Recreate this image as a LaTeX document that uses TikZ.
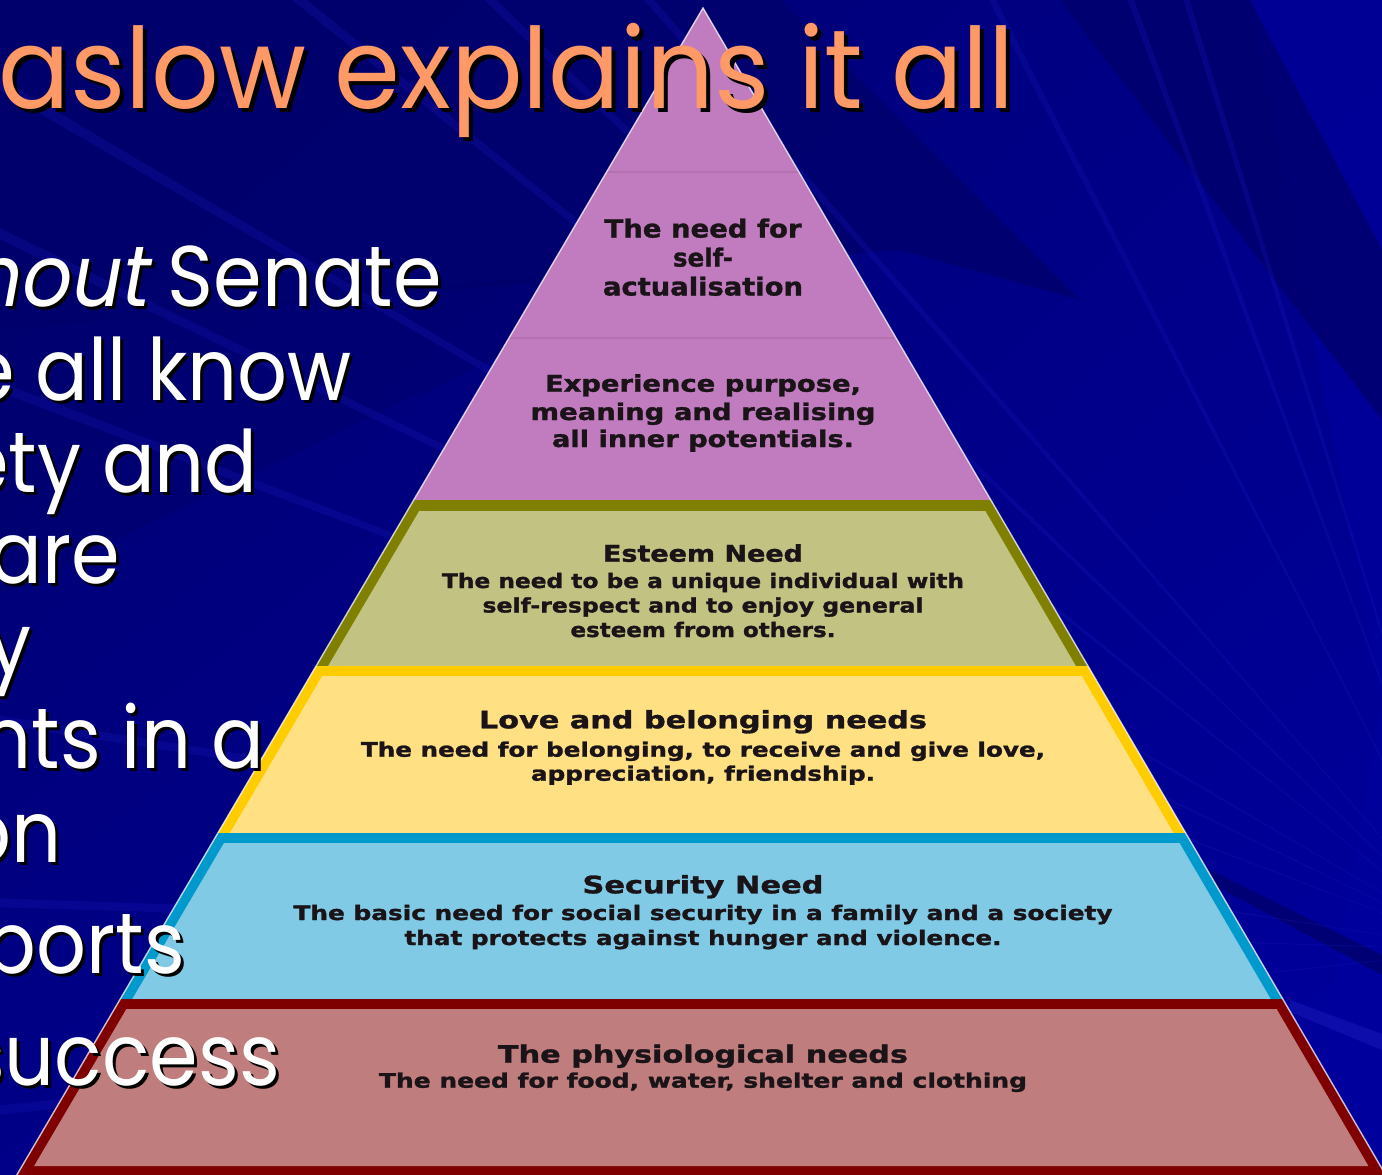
\documentclass[tikz,border=0pt]{standalone}
\usepackage{fontspec}
\usepackage{graphicx}
\usetikzlibrary{shadings}
\newfontfamily\handfont{Poppins}
\newfontfamily\handslant{Poppins}[FakeSlant=0.2]
\newfontfamily\labelfont{DejaVu Sans}[BoldFeatures={FakeBold=1.3}]

\definecolor{navybase}{HTML}{000088}
\definecolor{navydark}{HTML}{00006C}
\definecolor{navybright}{HTML}{00009E}
\definecolor{navystreak}{HTML}{1818B8}
\definecolor{titleorange}{HTML}{FF9966}
\definecolor{labelink}{HTML}{1A1418}
\definecolor{topfill}{HTML}{C07CBE}
\definecolor{topline}{HTML}{AE6CAC}
\definecolor{esteemedge}{HTML}{7F7F00}
\definecolor{esteemfill}{HTML}{C2C283}
\definecolor{loveedge}{HTML}{FFCC00}
\definecolor{lovefill}{HTML}{FFE082}
\definecolor{safeedge}{HTML}{0099CC}
\definecolor{safefill}{HTML}{80CAE6}
\definecolor{bodyedge}{HTML}{7F0000}
\definecolor{bodyfill}{HTML}{C07D7D}

\newdimen\measw
\newdimen\measv
\newcommand\fitto[2]{\resizebox{#1pt}{\height}{#2}}
\newcommand\bodytxt[1]{\handfont\fontsize{86}{86}\selectfont\scalebox{\bodysx}[1]{#1}}
\newcommand\mytitle{\handfont\fontsize{112}{112}\selectfont\scalebox{\titlesx}[1]{aslow explains it all}}

% horizontal scale of the hand-lettered text, set from the width of one word
\AtBeginDocument{%
  \setbox0=\hbox{\handfont\fontsize{86}{86}\selectfont Senate}\global\measw=\wd0
  \setbox0=\hbox{\handfont\fontsize{112}{112}\selectfont explains}\global\measv=\wd0
  \pgfmathsetmacro\bodysx{274/\the\measw}%
  \pgfmathsetmacro\titlesx{435/\the\measv}%
  \xdef\bodysx{\bodysx}\xdef\titlesx{\titlesx}}

\begin{document}
\begin{tikzpicture}[x=1pt,y=-1pt,
  sidetext/.style={anchor=base east,inner sep=0pt},
  plabel/.style={anchor=base,inner sep=0pt,text=labelink,font=\labelfont\bfseries},
  beam/.style={fill=navystreak,opacity=0.28},
  shadowband/.style={fill=navydark,opacity=0.8}]
\useasboundingbox (0,0) rectangle (1382,1175);
\clip (0,0) rectangle (1382,1175);

% ---------- background: deep blue, darker to the upper left ----------
\shade[upper left=navydark,upper right=navybase,lower left=navybase,lower right=navybright]
  (0,0) rectangle (1382,1175);
\fill[navybright,opacity=0.6] (1250,0) -- (1382,0) -- (1382,1175) -- (1300,1175) -- (1382,700) -- cycle;
% dark sweeps
\fill[shadowband] (1060,0) -- (1250,0) -- (1382,250) -- (1382,420) -- cycle;
\fill[shadowband] (0,0) -- (780,0) -- (1080,300) -- (900,250) -- (0,330) -- cycle;
\fill[shadowband,opacity=0.5] (0,330) -- (700,260) -- (0,595) -- cycle;
\fill[shadowband] (1190,860) -- (1382,955) -- (1382,975) -- (1190,872) -- cycle;
% light streaks
\coordinate (F) at (1480,950);
\foreach \a in {95,107,110,117,131,136,141,149.5,154,159,171,178,186}{
  \fill[beam] (F) -- +(-\a:3200) -- +(-\a-0.35:3200) -- cycle;}
\fill[navystreak,opacity=0.55] (1290,1000) -- (1382,1034) -- (1382,1050) -- (1290,1012) -- cycle;

% ---------- pyramid ----------
\coordinate (apex) at (703,8);
% top tier
\fill[topfill] (apex) -- (413.7,500) -- (990.8,500) -- cycle;
\draw[topline,line width=1.5pt,opacity=0.6] (606.6,172) -- (798.9,172);
\draw[topline,line width=1.5pt,opacity=0.6] (509,338) -- (896,338);
% esteem tier
\fill[esteemedge] (413.7,500) -- (990.8,500) -- (1087.9,666) -- (316.1,666) -- cycle;
\fill[esteemfill] (419.2,511) -- (985.3,511) -- (1075.9,666) -- (328.1,666) -- cycle;
% love tier
\fill[loveedge] (316.1,666) -- (1087.9,666) -- (1185.6,833) -- (217.9,833) -- cycle;
\fill[lovefill] (322.2,676) -- (1081.8,676) -- (1173.6,833) -- (229.9,833) -- cycle;
% safety tier
\fill[safeedge] (217.9,833) -- (1185.6,833) -- (1282.7,999) -- (120.3,999) -- cycle;
\fill[safefill] (224.0,843) -- (1179.5,843) -- (1270.7,999) -- (132.3,999) -- cycle;
% physiological tier
\fill[bodyedge] (120.3,999) -- (1282.7,999) -- (1385.7,1175) -- (16.8,1175) -- cycle;
\fill[bodyfill] (126.4,1009) -- (1276.6,1009) -- (1368.4,1166) -- (34.1,1166) -- cycle;
% light rim along the two slopes
\draw[white,line width=1.4pt,opacity=0.75,line join=miter] (16.8,1175) -- (apex) -- (1385.7,1175);

% ---------- tier labels ----------
\newcommand\pyline[5]{\node[plabel] (#1) at (703,#2) {\fontsize{#3}{#3}\selectfont\fitto{#4}{#5}};}
\pyline{pta}{237.5}{25}{197}{The need for}
\pyline{ptb}{266.5}{25}{60}{self-}
\pyline{ptc}{295.5}{25}{200}{actualisation}
\pyline{ppa}{391.7}{23}{316}{Experience purpose,}
\pyline{ppb}{420}{23}{345}{meaning and realising}
\pyline{ppc}{447}{23}{302}{all inner potentials.}
\pyline{esa}{561.7}{23}{200}{Esteem Need}
\pyline{esb}{588}{20}{522}{The need to be a unique individual with}
\pyline{esc}{612.5}{20}{441}{self-respect and to enjoy general}
\pyline{esd}{637}{20}{265}{esteem from others.}
\pyline{lva}{728.3}{24}{448}{Love and belonging needs}
\pyline{lvb}{756.7}{20}{684}{The need for belonging, to receive and give love,}
\pyline{lvc}{780.7}{20}{344}{appreciation, friendship.}
\pyline{sca}{893.3}{24}{241}{Security Need}
\pyline{scb}{920}{20}{819}{The basic need for social security in a family and a society}
\pyline{scc}{945}{20}{597}{that protects against hunger and violence.}
\pyline{pha}{1062.7}{24}{410}{The physiological needs}
\pyline{phb}{1087.7}{20}{648}{The need for food, water, shelter and clothing}

% ---------- title and side text with drop shadows ----------
\node[sidetext,text=black] (titleshadow) at (1019,112) {\mytitle};
\node[sidetext,text=titleorange] (title) at (1015,108) {\mytitle};

\newcommand\castline[4]{%
  \node[sidetext,text=black] (#1s) at (#2+3,#3+3) {\bodytxt{#4}};
  \node[sidetext,text=white] (#1) at (#2,#3) {\bodytxt{#4}};}
\castline{la}{442}{306}{{\handslant nout} Senate}
\castline{lb}{352}{400}{e all know}
\castline{lc}{258}{492}{ety and}
\castline{ld}{120}{583}{are}
\castline{le}{32}{674}{y}
\castline{lf}{265}{768}{nts in a}
\castline{lg}{62}{862}{on}
\castline{lh}{185}{973}{ports}
\castline{li}{280}{1085}{success}
\end{tikzpicture}
\end{document}
